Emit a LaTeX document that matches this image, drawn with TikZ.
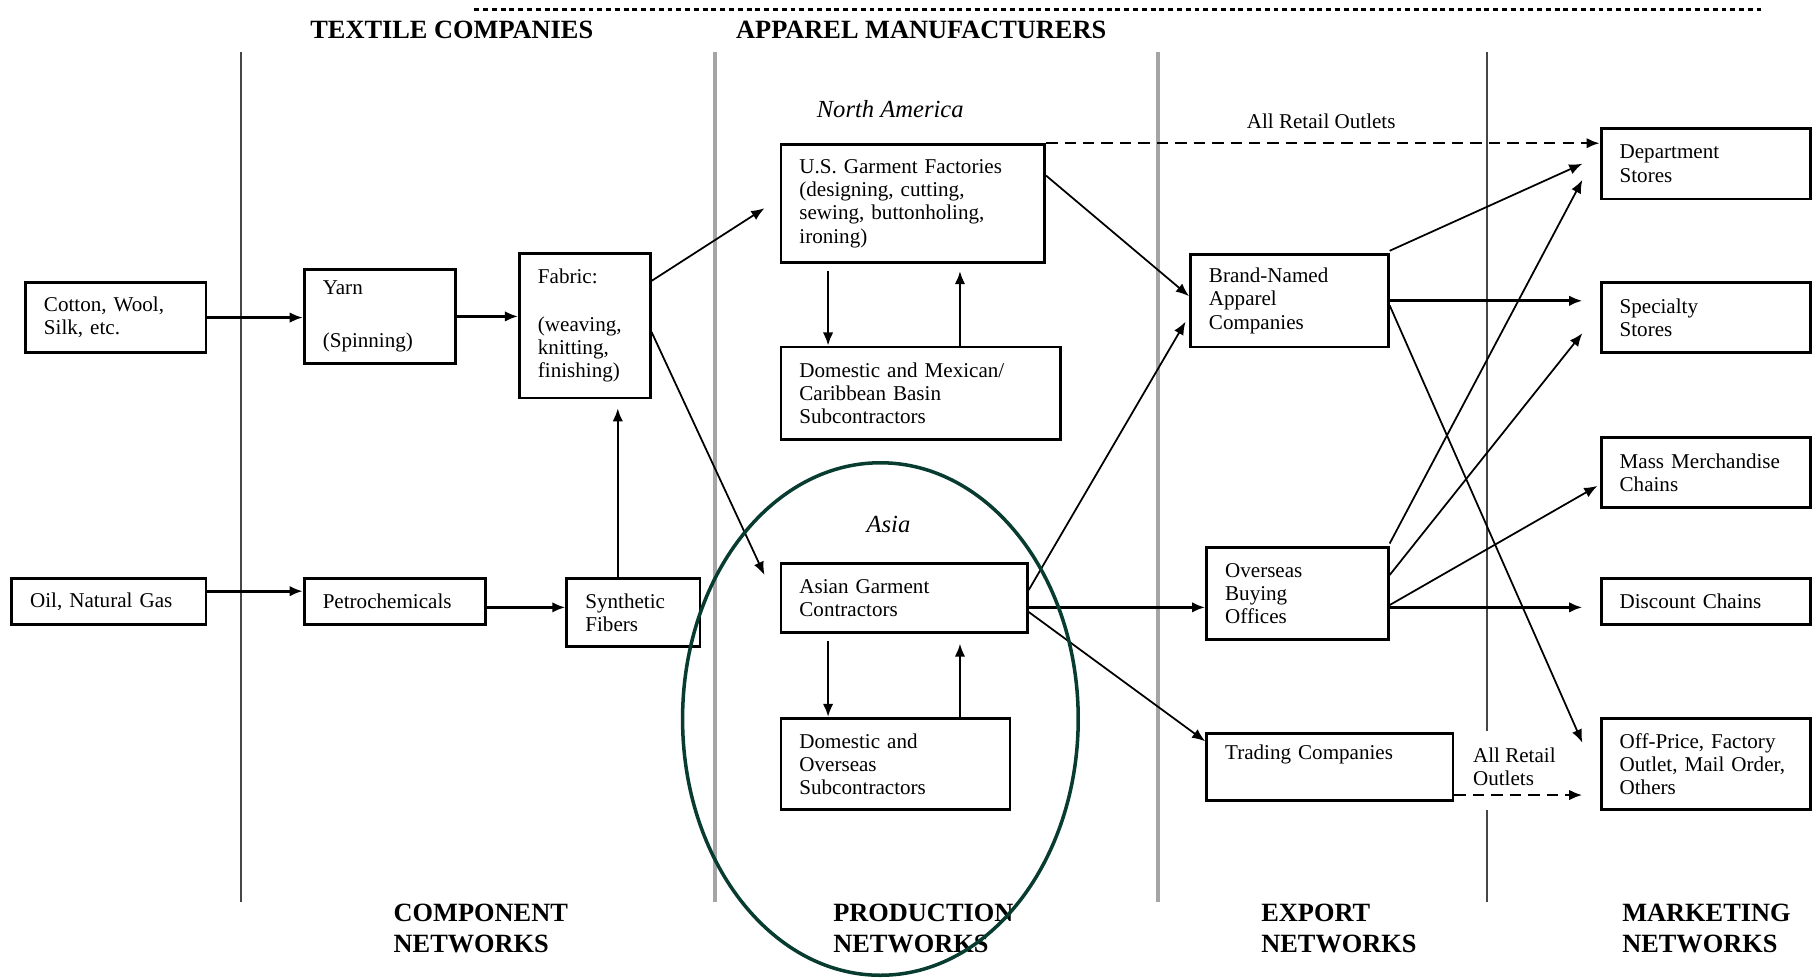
\documentclass[tikz,border=0pt]{standalone}
\usepackage{fontspec}
\setmainfont{Liberation Serif}
\usetikzlibrary{arrows.meta,positioning,calc}

% one unit of the drawing grid
\newcommand\pxu{0.02314cm}

\definecolor{ovalgreen}{RGB}{8,60,48}
\definecolor{rulegray}{RGB}{165,165,165}
\definecolor{ruledark}{RGB}{70,70,70}

\begin{document}
\begin{tikzpicture}[
x=\pxu, y=-\pxu,
box/.style 2 args={draw, line width=1.6pt, align=left,
        inner xsep={16*\pxu}, inner ysep=0pt,
        text width={(#1-32)*\pxu}, minimum height={#2*\pxu},
        font=\fontsize{12}{13.2}\selectfont},
flow/.style={-{Latex[length=7.5pt,width=6pt]}, line width=1pt},
mainflow/.style={flow, line width=1.7pt},
loopflow/.style={flow, line width=1.4pt},
dashflow/.style={flow, line width=1.4pt, dash pattern=on 6.5pt off 4pt},
hdr/.style={anchor=west, align=left, inner sep=0pt,
        font=\fontsize{15}{17.7}\selectfont\bfseries},
region/.style={inner sep=0pt, font=\fontsize{14}{16}\selectfont\itshape},
note/.style={inner sep=0pt, align=left, font=\fontsize{12}{13.2}\selectfont}
                        ]
\useasboundingbox (0,0) rectangle (1568,845);

% column rules and heading line
\draw[ruledark, line width=1.2pt] (208,45) -- (208,780);
\draw[rulegray, line width=2pt]   (618,45) -- (618,780);
\draw[rulegray, line width=2pt]   (1001,45) -- (1001,780);
\draw[ruledark, line width=1.2pt] (1285,45) -- (1285,632);
\draw[ruledark, line width=1.2pt] (1285,700) -- (1285,780);
\draw[line width=1.7pt, dash pattern=on 2.8pt off 2.2pt] (410,8) -- (1522,8);

\node[hdr] (textile) at (268,26) {TEXTILE COMPANIES};
\node[hdr] (apparel) at (636,26) {APPAREL MANUFACTURERS};

\node[hdr] (compnet) at (340,802.5) {COMPONENT\\NETWORKS};
\node[hdr] (prodnet) at (720,802.5) {PRODUCTION\\NETWORKS};
\node[hdr] (expnet)  at (1090,802.5) {EXPORT\\NETWORKS};
\node[hdr] (mktnet)  at (1402,802.5) {MARKETING\\NETWORKS};

% component networks
\node[box={156}{61}]  (cotton) at (100,274.5)   {Cotton, Wool,\\Silk, etc.};
\node[box={168}{40}]  (oil)    at (94,520)      {Oil, Natural Gas};
\node[box={131}{81}]  (yarn)   at (328.5,273.5) {Yarn\\[0.58cm](Spinning)};
\node[box={157}{40}]  (petro)  at (341.5,520)   {Petrochemicals};
\node[box={113}{125}] (fabric) at (505.5,281.5) {Fabric:\\[0.5cm](weaving,\\knitting,\\finishing)};
\node[box={115}{59}]  (synth)  at (547.5,529.5) {Synthetic\\Fibers};

% production networks
\node[region] (namerica) at (769.5,94) {North America};
\node[box={228}{102}] (usg)     at (789,176)     {U.S. Garment Factories\\(designing, cutting,\\sewing, buttonholing,\\ironing)};
\node[box={242}{80}]  (dommex)  at (796,340)     {Domestic and Mexican/\\Caribbean Basin\\Subcontractors};
\node[region] (asia) at (768,453) {Asia};
\node[box={213}{60}]  (asian)   at (781.5,517)   {Asian Garment\\Contractors};
\node[box={198}{79}]  (domover) at (774,660.5)   {Domestic and\\Overseas\\Subcontractors};

% export networks
\node[box={171}{80}]  (brand)    at (1114.5,260) {Brand-Named\\Apparel\\Companies};
\node[box={157}{80}]  (overseas) at (1121.5,513) {Overseas\\Buying\\Offices};
\node[box={213}{58}]  (trading)  at (1149.5,663) {Trading Companies\\\strut};

% marketing networks
\node[box={181}{61}] (dept) at (1474.5,141.5) {Department\\Stores};
\node[box={181}{61}] (spec) at (1474.5,274.5) {Specialty\\Stores};
\node[box={181}{61}] (mass) at (1474.5,408.5) {Mass Merchandise\\Chains};
\node[box={181}{40}] (disc) at (1474.5,520)   {Discount Chains};
\node[box={181}{79}] (offp) at (1474.5,660.5) {Off-Price, Factory\\Outlet, Mail Order,\\Others};

\node[note] (retailtop) at (1142,105) {All Retail Outlets};
\node[note, anchor=west] (retailbot) at (1273,663) {All Retail\\Outlets};

% textile flows
\draw[loopflow] (cotton.east) -- (cotton.east -| yarn.west);
\draw[loopflow] (yarn.east) -- (yarn.east -| fabric.west);
\coordinate (oilout) at ($(oil.east)+(0,-9)$);
\draw[mainflow] (oilout) -- (oilout -| petro.west);
\coordinate (petroout) at ($(petro.east)+(0,5)$);
\draw[mainflow] (petroout) -- (petroout -| synth.west);
\coordinate (synthout) at ($(synth.north)+(-13.5,0)$);
\draw[loopflow, shorten >=5pt] (synthout) -- (synthout |- fabric.south);
\draw[flow] ($(fabric.north east)+(0,25)$) -- ($(usg.west)+(-13,4)$);
\draw[flow] ($(fabric.east)+(0,5.5)$) -- ($(asian.west)+(-13,-20)$);

% subcontracting loops
\draw[loopflow] ($(usg.south west)+(42,6)$) -- ($(dommex.north west)+(42,0)$);
\draw[loopflow] ($(dommex.north west)+(156,0)$) -- ($(usg.south west)+(156,6)$);
\draw[loopflow] ($(asian.south west)+(42,6)$) -- ($(domover.north west)+(42,0)$);
\draw[loopflow] ($(domover.north west)+(156,0)$) -- ($(asian.south west)+(156,8)$);

% to exporters
\draw[flow] ($(usg.north east)+(0,28)$) -- ($(brand.west)+(0,-4)$);
\draw[flow] ($(asian.east)+(0,-7)$) -- ($(brand.west)+(-3,18)$);
\coordinate (asianout) at ($(asian.east)+(0,8)$);
\draw[mainflow] (asianout) -- (asianout -| overseas.west);
\draw[flow] ($(asian.east)+(0,12)$) -- ($(trading.north west)+(0,8)$);
\draw[dashflow] (usg.north east) -- (usg.north east -| dept.west);

% to retail
\draw[flow] ($(brand.north east)+(0,-2)$) -- ($(dept.west)+(-15,0)$);
\draw[mainflow] (brand.east) -- ($(brand.east -| spec.west)+(-15,0)$);
\draw[flow] ($(brand.east)+(0,4)$) -- ($(offp.west)+(-15,-18.5)$);
\draw[flow] ($(overseas.north east)+(0,-2)$) -- ($(dept.west)+(-15,14)$);
\draw[flow] ($(overseas.east)+(0,-16)$) -- ($(spec.west)+(-15,13.5)$);
\draw[flow] ($(overseas.east)+(0,10)$) -- ($(mass.west)+(-2,11.5)$);
\coordinate (overseasout) at ($(overseas.east)+(0,12)$);
\draw[mainflow] (overseasout) -- ($(overseasout -| disc.west)+(-15,0)$);
\coordinate (tradingout) at ($(trading.south east)+(0,-6)$);
\draw[dashflow] (tradingout) -- ($(tradingout -| offp.west)+(-15,0)$);

% Asian production ring
\draw[ovalgreen, line width=2pt] (761,621.5) ellipse [x radius=171, y radius=221.5];
\end{tikzpicture}
\end{document}
